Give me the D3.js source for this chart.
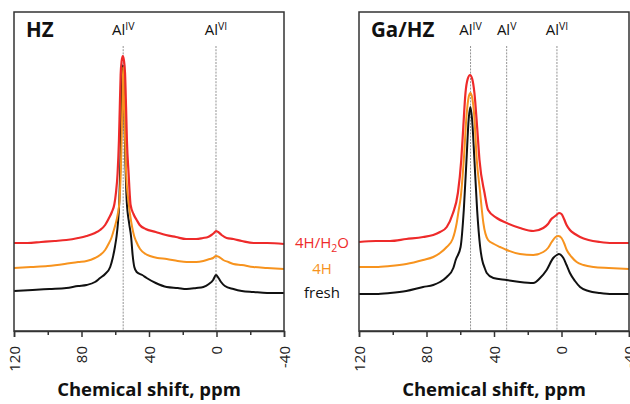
<!DOCTYPE html>
<html><head><meta charset="utf-8">
<script src="https://cdn.jsdelivr.net/npm/d3@7"></script>
<style>
html,body{margin:0;padding:0;background:#fff;}
svg{display:block;font-family:"Open Sans",sans-serif;}
</style></head>
<body><svg id="c" width="630" height="404"></svg>
<script>
// ---- data: [chemical shift (ppm), intensity (a.u.)] ----
const hzRed = [[120,88],[112,88],[104,89],[96,90],[89,91],[82,93],[77,95],[72,98],[69,101],[66,106],[64,112],[62,119],[60.5,127],[59.6,138],[58.6,158],[57.8,191],[57.3,224],[56.8,256],[56.2,270],[55.5,275],[54.9,271],[54.2,258],[53.6,224],[53.1,191],[52.1,158],[50.9,126],[49.2,117],[47.3,111],[45.5,106],[42,102],[36,99],[30,96],[24,94],[18,92],[12,92],[8,93],[5,94],[3,96],[1.5,98],[0.3,100],[-1,99],[-3,96],[-6,93],[-10,92],[-15,90],[-22,88],[-30,88],[-40,87]];
const hzOrange = [[120,63],[110,64],[100,65],[90,67],[82,69],[77,70],[72,73],[69,76],[66,81],[64,87],[62.3,93],[61,100],[59.8,107],[58.5,117],[57.5,130],[56.7,160],[56.1,200],[55.6,240],[55.3,264],[54.9,240],[54.3,200],[53.6,160],[52.2,130],[51,114],[50,104],[48.8,95],[47.7,90],[45.3,82],[42,77],[39.4,75],[35,73],[29.5,72],[23,70],[17.7,69],[12,69],[7.8,70],[4,72],[2,73],[0.3,75],[-1.5,74],[-4,71],[-7,69],[-10,67],[-15,66],[-21.8,64],[-30,63],[-40,62]];
const hzFresh = [[120,40],[109,41],[99,42],[89,43],[82,45],[77,46],[72,49],[69,53],[66,57],[63,64],[61.5,73],[60.2,84],[59.2,95],[58.4,108],[57.6,130],[57,165],[56.4,215],[55.9,252],[55.5,266],[55.1,252],[54.6,215],[54,170],[53.2,130],[51.8,108],[50.6,94],[49.7,76],[48.7,64],[47.3,59],[44,56],[41.4,53],[36,48],[29.5,44],[23,43],[17.7,42],[12,43],[7.8,44],[4.5,47],[2,51],[0.3,56],[-1.2,53],[-2.7,49],[-5,45],[-10,42],[-15,40],[-21.8,39],[-30,38],[-40,38]];
const gaRed = [[120,89],[110,90],[101.6,90],[92,92],[82,94],[76,96],[72,99],[68,104],[64.5,117],[61.4,138],[59.4,171],[58.2,204],[56.9,238],[55.6,252],[54.2,256],[52.9,252],[51.6,238],[50,204],[48.6,171],[45.6,138],[43.5,121],[38.4,113],[32.5,108],[24.6,103],[16.7,100],[10.8,103],[8,107],[6,112],[4.5,114],[3,116],[1.5,118],[0,117],[-1.5,112],[-3,106],[-5,101],[-8,97],[-11,94],[-16,91],[-22.8,89],[-30,88],[-40,88]];
const gaOrange = [[120,64],[110,64],[101.6,65],[92,67],[82,71],[76,74],[72,78],[68,84],[64.5,92],[62.1,108],[60.9,121],[59.7,134],[57.9,171],[56.3,215],[55,234],[54,238],[53,234],[51.7,215],[50.2,171],[48.3,140],[47.2,121],[46.3,108],[43.5,91],[40,87],[36.4,84],[32.5,81],[24.6,77],[16.7,76],[10.8,79],[8,83],[5.8,89],[3.5,94],[1.8,95],[0,93],[-1.5,88],[-3.1,81],[-6,74],[-9,69],[-13,66],[-18.9,64],[-28,63],[-40,62]];
const gaFresh = [[120,37],[110,37],[101.6,38],[92,40],[82,44],[76,46],[72,49],[68,54],[64.1,63],[62.7,71],[59.8,84],[57.9,121],[56.3,171],[55,212],[54,224],[53,212],[51.6,171],[50,121],[48.2,84],[47,71],[45.5,63],[44.3,58],[40.4,53],[32.5,51],[24.6,49],[16.7,48],[12.7,53],[8.8,61],[4.9,73],[2.8,76],[1.5,77],[-1.1,73],[-3,66],[-5,58],[-8,50],[-11,44],[-16,40],[-22.8,38],[-30,37],[-40,37]];

const xTicks = [120, 80, 40, 0, -40];
const xMinor = [100, 60, 20, -20];
const legendLabels = ["4H/H₂O", "4H", "fresh"];
const hzMarkers = [{ppm:55.3, sup:"IV"}, {ppm:0.3, sup:"VI"}];
const gaMarkers = [{ppm:53.9, sup:"IV"}, {ppm:32.5, sup:"V"}, {ppm:2.7, sup:"VI"}];

const colors = {red:"#ee2a2a", orange:"#f7931e", black:"#111111"};

const svg = d3.select("#c");

function panel(x0, x1, title, titleX, markers, series) {
  const top = 12, bottom = 331;
  const x = d3.scaleLinear().domain([120, -40]).range([x0, x1]);
  const y = d3.scaleLinear().domain([0, 319]).range([bottom, top]);
  const g = svg.append("g");

  markers.forEach(m => {
    g.append("line").attr("x1", x(m.ppm)).attr("x2", x(m.ppm))
      .attr("y1", 46).attr("y2", bottom)
      .attr("stroke", "#777").attr("stroke-width", 0.8).attr("stroke-dasharray", "2,1.2");
    const t = g.append("text").attr("x", x(m.ppm)).attr("y", 35)
      .attr("text-anchor", "middle").attr("font-size", 15).attr("fill", "#111");
    t.append("tspan").text("Al");
    t.append("tspan").attr("dy", -5.5).attr("font-size", 10.5).text(m.sup);
  });

  const line = d3.line().x(d => x(d[0])).y(d => y(d[1])).curve(d3.curveMonotoneX);
  series.forEach(s => {
    g.append("path").datum(s.data.slice().sort((a,b)=>a[0]-b[0]))
      .attr("d", line).attr("fill", "none")
      .attr("stroke", s.color).attr("stroke-width", s.w).attr("stroke-linejoin", "round");
  });

  g.append("rect").attr("x", x0).attr("y", top).attr("width", x1 - x0).attr("height", bottom - top)
    .attr("fill", "none").attr("stroke", "#333").attr("stroke-width", 1.5);

  const ax = g.append("g").attr("transform", `translate(0,${bottom})`)
    .call(d3.axisBottom(x).tickValues(xTicks).tickSize(6).tickFormat(d => String(d)));
  ax.select(".domain").attr("stroke", "#333").attr("stroke-width", 1.5);
  ax.selectAll(".tick line").attr("stroke", "#333").attr("stroke-width", 1.5);
  ax.selectAll(".tick text")
    .attr("transform", "rotate(-90)")
    .attr("x", -15).attr("y", 0).attr("dy", "0.35em")
    .attr("text-anchor", "end")
    .attr("font-family", "Open Sans, sans-serif").attr("font-size", 15).attr("fill", "#222");
  g.append("g").attr("transform", `translate(0,${bottom})`)
    .call(d3.axisBottom(x).tickValues(xMinor).tickSize(4).tickFormat(""))
    .call(a => a.select(".domain").remove())
    .selectAll(".tick line").attr("stroke", "#333").attr("stroke-width", 1.5);

  g.append("text").attr("x", (x0 + x1) / 2).attr("y", 396).attr("text-anchor", "middle")
    .attr("font-size", 18.5).attr("font-weight", 700).attr("fill", "#111").text("Chemical shift, ppm");
  g.append("text").attr("x", titleX).attr("y", 37).attr("font-size", 20.5)
    .attr("font-weight", 700).attr("fill", "#111").text(title);
}

panel(14, 284, "HZ", 26, hzMarkers, [
  {data: hzFresh, color: colors.black, w: 2},
  {data: hzOrange, color: colors.orange, w: 2},
  {data: hzRed, color: colors.red, w: 2.2}
]);
panel(359, 629, "Ga/HZ", 371, gaMarkers, [
  {data: gaFresh, color: colors.black, w: 2},
  {data: gaOrange, color: colors.orange, w: 2},
  {data: gaRed, color: colors.red, w: 2.2}
]);

const lg = svg.append("g").attr("font-size", 15).attr("text-anchor", "middle");
const l1 = lg.append("text").attr("x", 322).attr("y", 248).attr("fill", colors.red);
l1.append("tspan").text("4H/H");
l1.append("tspan").attr("dy", 4).attr("font-size", 10.5).text("2");
l1.append("tspan").attr("dy", -4).text("O");
lg.append("text").attr("x", 322).attr("y", 274).attr("fill", colors.orange).text(legendLabels[1]);
lg.append("text").attr("x", 322).attr("y", 298).attr("fill", "#111").text(legendLabels[2]);
</script></body></html>
